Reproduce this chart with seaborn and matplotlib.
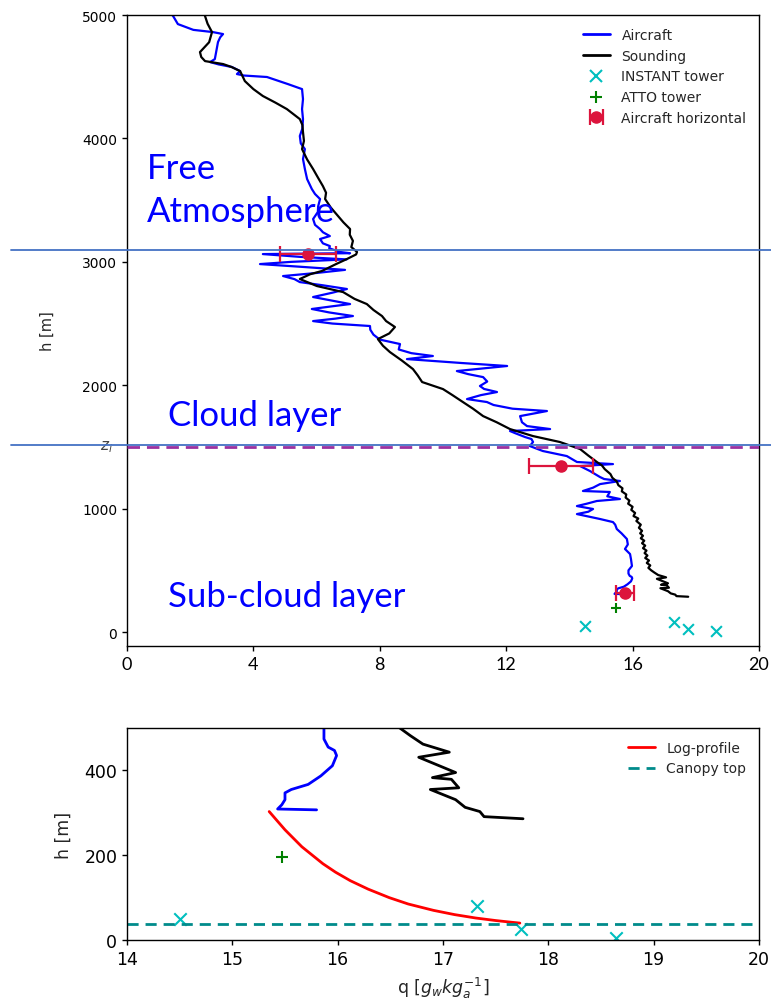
import matplotlib
matplotlib.use("Agg")
import matplotlib.pyplot as plt
import matplotlib.transforms as mtransforms
from matplotlib.lines import Line2D
import seaborn as sns

# ---- aircraft vertical profile (h in m, q in g/kg), bottom to top ----
air_h = [307, 309, 319, 331, 347, 355, 367, 387, 411, 435, 447, 455, 474, 500,
         535, 590, 632, 673, 710, 754, 800, 835, 870, 891, 916, 956, 975, 997,
         1021, 1040, 1062, 1078, 1100, 1135, 1143, 1170, 1199, 1224, 1240, 1256,
         1305, 1345, 1361, 1378, 1426, 1467, 1507, 1540, 1564, 1580, 1610, 1629,
         1645, 1669, 1700, 1750, 1791, 1810, 1840, 1864, 1888, 1920, 1945, 1970,
         1994, 2030, 2066, 2090, 2115, 2135, 2156, 2180, 2212, 2237, 2260, 2290,
         2334, 2370, 2410, 2450, 2480, 2500, 2520, 2540, 2561, 2590, 2618, 2640,
         2658, 2690, 2715, 2750, 2780, 2810, 2836, 2860, 2885, 2910, 2935, 2960,
         2982, 3000, 3020, 3040, 3063, 3070, 3080, 3110, 3128, 3150, 3185, 3209,
         3240, 3266, 3300, 3347, 3404, 3450, 3509, 3550, 3590, 3671, 3752, 3833,
         3914, 3960, 4020, 4080, 4157, 4238, 4319, 4400, 4440, 4481, 4498, 4510,
         4522, 4546, 4579, 4600, 4619, 4643, 4700, 4781, 4820, 4846, 4862, 4880,
         4927, 4992, 5010]
air_q = [15.80, 15.43, 15.47, 15.50, 15.50, 15.56, 15.72, 15.84, 15.95, 15.99, 15.97, 15.91, 15.87, 15.87,
         15.98, 15.95, 15.92, 15.76, 15.85, 15.82, 15.65, 15.50, 15.45, 15.38, 14.97, 14.24, 14.60, 14.75,
         14.24, 14.55, 14.87, 15.60, 15.20, 15.28, 14.43, 14.75, 14.97, 15.60, 15.10, 14.97,
         14.65, 14.34, 15.38, 14.24, 13.92, 13.16, 12.75, 12.85, 12.80, 12.60, 12.30, 12.12,
         13.39, 12.66, 12.50, 12.44, 13.29, 12.20, 11.60, 11.39, 10.76, 11.20, 11.71, 11.30,
         11.17, 11.40, 11.27, 10.80, 10.44, 11.20, 12.03, 10.60, 8.86, 9.68, 9.00, 8.60,
         8.64, 8.00, 7.80, 7.70, 7.69, 6.50, 5.89, 6.60, 7.15, 6.40, 5.85, 6.50,
         7.06, 6.40, 5.89, 6.50, 6.96, 6.20, 5.47, 5.30, 4.94, 6.00, 6.90, 5.50,
         4.21, 5.20, 6.95, 5.50, 4.30, 7.06, 6.74, 6.40, 6.42, 6.20, 6.11, 6.42,
         6.20, 6.11, 5.95, 5.89, 6.04, 6.05, 6.11, 5.95, 5.85, 5.70, 5.63, 5.57,
         5.63, 5.50, 5.47, 5.55, 5.57, 5.54, 5.57, 5.54, 5.10, 4.62, 4.43, 3.70,
         3.48, 3.58, 3.32, 2.90, 2.63, 2.78, 2.82, 2.88, 2.95, 3.04, 2.72, 2.10,
         1.61, 1.46, 1.40]

# ---- radiosonde profile ----
snd_h = [286, 291, 303, 313, 331, 355, 359, 379, 383, 395, 431, 443, 462, 482, 500,
         520, 540, 560, 580, 600, 620, 640, 660, 680, 700, 720, 740, 760, 780, 800,
         820, 845, 870, 900, 920, 940, 965, 990, 1015, 1040, 1065, 1090, 1115, 1140,
         1165, 1190, 1220, 1250, 1280, 1320, 1350, 1378, 1430, 1483, 1540, 1588,
         1645, 1700, 1750,
         1810, 1864, 1920, 1969, 2026, 2080, 2131, 2200, 2269, 2320, 2374, 2420,
         2472, 2520, 2561, 2610, 2658, 2700, 2755, 2804, 2861, 2900, 2926, 2980,
         3023, 3060, 3080, 3120, 3170, 3220, 3266, 3320, 3371, 3440, 3509, 3560,
         3614, 3680, 3752, 3830, 3914, 3980, 4052, 4110, 4157, 4238, 4290, 4344,
         4400, 4465, 4546, 4580, 4603, 4627, 4660, 4700, 4780, 4862, 4930, 4992, 5010]
snd_q = [17.76, 17.39, 17.35, 17.21, 17.12, 16.88, 17.15, 17.08, 16.90, 17.12, 16.77, 17.06, 16.81, 16.69, 16.59,
         16.50, 16.56, 16.45, 16.52, 16.40, 16.47, 16.38, 16.44, 16.33, 16.40, 16.30, 16.37, 16.26, 16.33, 16.24,
         16.30, 16.20, 16.26, 16.12, 16.18, 16.03, 16.08, 15.96, 16.00, 15.86, 15.90, 15.78, 15.80, 15.66,
         15.68, 15.55, 15.50, 15.36, 15.30, 15.12, 15.03, 14.87, 14.60, 14.34, 13.70, 12.85,
         12.12, 11.70, 11.27,
         10.95, 10.63, 10.30, 10.00, 9.34, 9.20, 9.05, 8.70, 8.32, 8.10, 7.94, 8.30,
         8.48, 8.20, 8.07, 7.80, 7.59, 7.20, 6.84, 6.01, 5.47, 5.80, 6.17, 6.60,
         6.96, 7.25, 7.28, 7.10, 7.15, 7.05, 7.06, 6.85, 6.68, 6.45, 6.27, 6.30,
         6.20, 6.05, 5.89, 5.70, 5.54, 5.60, 5.57, 5.55, 5.47, 5.06, 4.70, 4.30,
         4.00, 3.73, 3.58, 3.30, 3.04, 2.47, 2.35, 2.31, 2.60, 2.69, 2.55, 2.47, 2.45]

# ---- tower measurements ----
instant_q = [14.50, 17.32, 17.74, 18.64]
instant_h = [50, 81, 26, 6]
atto_q = [15.47]
atto_h = [196]

# ---- aircraft horizontal legs (mean +/- spread) ----
horiz_q = [15.76, 13.73, 5.73]
horiz_h = [316, 1345, 3062]
horiz_err = [0.27, 1.01, 0.88]

# ---- surface-layer log profile ----
log_h = [303, 280, 260, 240, 220, 200, 180, 160, 140, 120, 100, 85, 70, 60, 52, 46, 42, 40]
log_q = [15.35, 15.43, 15.50, 15.58, 15.66, 15.76, 15.86, 15.98, 16.12, 16.29, 16.49,
         16.67, 16.91, 17.11, 17.31, 17.50, 17.65, 17.73]

zi = 1500            # mixed-layer top
canopy_top = 37      # forest canopy height
layer_bounds = [1515, 3100]

sns.set_theme(style="ticks")
plt.rcParams.update({
    "font.family": ["DejaVu Sans"],
    "axes.linewidth": 1.0,
    "axes.edgecolor": "black",
    "xtick.major.size": 3.5, "ytick.major.size": 3.5,
    "xtick.major.width": 1.0, "ytick.major.width": 1.0,
    "xtick.color": "black", "ytick.color": "black",
})

fig = plt.figure(figsize=(7.71, 10.04), dpi=100)
ax1 = fig.add_axes([0.1647, 0.3556, 0.8197, 0.6284])
ax2 = fig.add_axes([0.1647, 0.0627, 0.8197, 0.2112])

AIR = "#0000ff"
SND = "black"
INST = "#00bfbf"
ATTO = "#008000"
HOR = "#dc143c"

# ---------------- upper panel ----------------
sns.lineplot(x=air_q, y=air_h, sort=False, estimator=None, color=AIR, lw=1.6, ax=ax1)
sns.lineplot(x=snd_q, y=snd_h, sort=False, estimator=None, color=SND, lw=1.6, ax=ax1)
sns.scatterplot(x=instant_q, y=instant_h, marker="x", color=INST, s=60, linewidth=1.5, ax=ax1)
sns.scatterplot(x=atto_q, y=atto_h, marker="+", color=ATTO, s=60, linewidth=1.5, ax=ax1)
ax1.errorbar(horiz_q, horiz_h, xerr=horiz_err, fmt="o", color=HOR, ms=8, capsize=6,
             elinewidth=1.6, capthick=1.6, zorder=5)
ax1.axhline(zi, color="#9b30a0", lw=2.0, ls=(0, (4.5, 2.5)), zorder=4)

ax1.set_xlim(0, 20)
ax1.set_ylim(-113, 5000)
ax1.set_xticks([0, 4, 8, 12, 16, 20])
ax1.set_yticks([0, 1000, 2000, 3000, 4000, 5000])
ax1.tick_params(axis="y", labelsize=10)
ax1.tick_params(axis="x", labelsize=13)
for t in ax1.get_xticklabels():
    t.set_family("Lato")
ax1.set_ylabel("h [m]", fontsize=10.5, labelpad=20)
ax1.text(-0.45, zi + 10, "$z_i$", ha="right", va="center", fontsize=11, color="#444444")

leg_handles = [
    Line2D([], [], color=AIR, lw=2),
    Line2D([], [], color=SND, lw=2),
    Line2D([], [], color=INST, marker="x", ls="none", ms=8, mew=1.5),
    Line2D([], [], color=ATTO, marker="+", ls="none", ms=8, mew=1.5),
    ax1.containers[0] if ax1.containers else Line2D([], [], color=HOR, marker="o"),
]
ax1.legend(leg_handles, ["Aircraft", "Sounding", "INSTANT tower", "ATTO tower",
                         "Aircraft horizontal"],
           loc="upper right", fontsize=10, frameon=False)

# layer boundaries drawn across the whole figure width
btrans = mtransforms.blended_transform_factory(fig.transFigure, ax1.transData)
for hb in layer_bounds:
    ax1.plot([0.014, 1.0], [hb, hb], color="#4472c4", lw=1.3, transform=btrans,
             clip_on=False, zorder=6)

lay_font = dict(family="Lato", color="#0000ff", fontsize=25)
fig.text(147 / 771, 1 - 179 / 1004, "Free", va="baseline", **lay_font)
fig.text(147 / 771, 1 - 222 / 1004, "Atmosphere", va="baseline", **lay_font)
fig.text(168 / 771, 1 - 426 / 1004, "Cloud layer", va="baseline", **lay_font)
fig.text(168 / 771, 1 - 607 / 1004, "Sub-cloud layer", va="baseline", **lay_font)

# ---------------- lower panel ----------------
sns.lineplot(x=air_q, y=air_h, sort=False, estimator=None, color=AIR, lw=2.0, ax=ax2)
sns.lineplot(x=snd_q, y=snd_h, sort=False, estimator=None, color=SND, lw=2.0, ax=ax2)
sns.lineplot(x=log_q, y=log_h, sort=False, estimator=None, color="red", lw=2.0, ax=ax2)
ax2.axhline(canopy_top, color="#008b8b", lw=2.0, ls=(0, (4, 2.5)))
sns.scatterplot(x=instant_q, y=instant_h, marker="x", color=INST, s=80, linewidth=1.5, ax=ax2)
sns.scatterplot(x=atto_q, y=atto_h, marker="+", color=ATTO, s=80, linewidth=1.5, ax=ax2)

ax2.set_xlim(14, 20)
ax2.set_ylim(0, 500)
ax2.set_xticks([14, 15, 16, 17, 18, 19, 20])
ax2.set_yticks([0, 200, 400])
ax2.tick_params(labelsize=12.5)
ax2.set_ylabel("h [m]", fontsize=12.5, labelpad=8)
ax2.set_xlabel(r"q [$g_w kg_a^{-1}$]", fontsize=12.5, labelpad=5)
ax2.legend([Line2D([], [], color="red", lw=2),
            Line2D([], [], color="#008b8b", lw=2, ls=(0, (4, 2.5)))],
           ["Log-profile", "Canopy top"], loc="upper right", fontsize=10, frameon=False)

fig.savefig("out.png", dpi=100)
